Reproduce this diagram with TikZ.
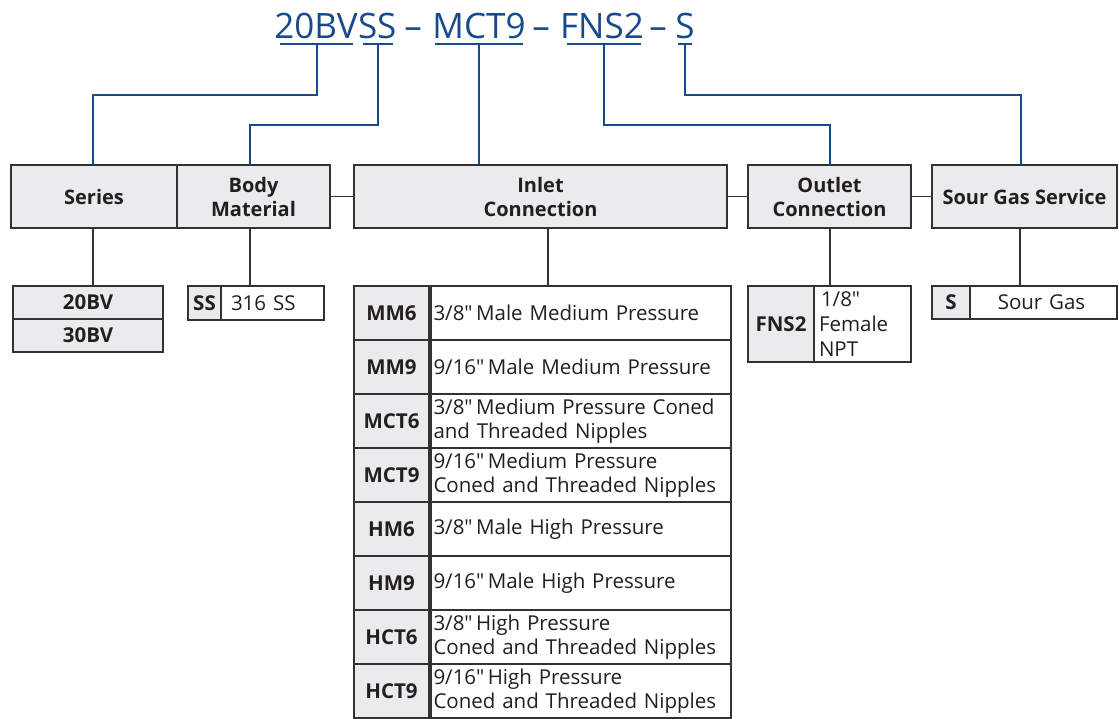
\documentclass[tikz,border=0pt]{standalone}
\usepackage{fontspec}
\setmainfont{Open Sans}[Ligatures=TeXOff]
\definecolor{blu}{RGB}{22,74,140}
\definecolor{grayf}{RGB}{235,235,237}
\definecolor{linec}{RGB}{50,50,50}
\definecolor{txt}{RGB}{35,31,32}
\tikzset{
  box/.style={draw=linec, line width=1.3pt, inner sep=0pt, text=txt},
  hdr/.style={box, fill=grayf, font=\bfseries\fontsize{20}{24}\selectfont, align=center, minimum height=63},
  code/.style={box, fill=grayf, font=\bfseries\fontsize{20.5}{24}\selectfont, align=center},
  desc/.style={box, fill=white, font=\fontsize{20.5}{24}\selectfont},
  tit/.style={text=blu, font=\fontsize{35}{40}\selectfont, inner sep=0pt, anchor=base},
  bl/.style={draw=blu, line width=2pt},
  gl/.style={draw=linec, line width=1.3pt}
}
\begin{document}
\begin{tikzpicture}[x=1pt,y=-1pt]
\useasboundingbox (0,0) rectangle (1119,718);
% title
\node[tit] (t20) at (316,38) {20BV};
\node[tit,anchor=base west] (tss) at (t20.base east) {SS};
\node[tit] (d1) at (413,38) {–};
\node[tit] (tmct) at (479,38) {MCT9};
\node[tit] (d2) at (541,38) {–};
\node[tit] (tfns) at (602,38) {FNS2};
\node[tit] (d3) at (658,38) {–};
\node[tit] (ts) at (685,38) {S};
\coordinate (u1) at (317,44); \coordinate (u2) at (378,44); \coordinate (u3) at (479,44);
\coordinate (u4) at (604,44); \coordinate (u5) at (685,44);
\draw[bl] (280,44) -- (353,44);
\draw[bl] (363,44) -- (393,44);
\draw[bl] (435,44) -- (523,44);
\draw[bl] (567,44) -- (641,44);
\draw[bl] (678,44) -- (692,44);
% header boxes
\node[hdr, minimum width=166] (series) at (94,196.5) {Series};
\node[hdr, minimum width=153] (body) at (253.5,196.5) {Body\\Material};
\node[hdr, minimum width=373] (inlet) at (540.5,196.5) {Inlet\\Connection};
\node[hdr, minimum width=163] (outlet) at (829.5,196.5) {Outlet\\Connection};
\node[hdr, minimum width=185] (sour) at (1024.5,196.5) {Sour Gas Service};
% blue connectors
\draw[bl] (u1) -- (317,95) -| (series.north -| 93,0);
\draw[bl] (u2) -- (378,125) -| (body.north -| 250,0);
\draw[bl] (u3) -- (inlet.north -| u3);
\draw[bl] (u4) -- (604,125) -| (outlet.north -| 830,0);
\draw[bl] (u5) -- (685,95) -| (sour.north -| 1021,0);
% gray links between headers
\draw[gl] (body.east) -- (inlet.west);
\draw[gl] (inlet.east) -- (outlet.west);
\draw[gl] (outlet.east) -- (sour.west);
% series table
\node[code, minimum width=150, minimum height=33] (s20) at (88,302.5) {20BV};
\node[code, minimum width=150, minimum height=33] (s30) at (88,335.5) {30BV};
% body table
\node[code, minimum width=33, minimum height=34] (bss) at (204.5,303) {SS};
\node[desc, minimum width=103, minimum height=34, text width=93, align=left] (bssd) at (272.5,303) {\hspace*{5pt}316 SS};
% inlet table
\foreach \c/\d/\n [count=\i from 0] in {
  MM6/{3/8"\,Male Medium Pressure}/mm6,
  MM9/{9/16"\,Male Medium Pressure}/mm9,
  MCT6/{3/8"\,Medium Pressure Coned\\and Threaded Nipples}/mct6,
  MCT9/{9/16"\,Medium Pressure\\Coned and Threaded Nipples}/mct9,
  HM6/{3/8"\,Male High Pressure}/hm6,
  HM9/{9/16"\,Male High Pressure}/hm9,
  HCT6/{3/8"\,High Pressure\\Coned and Threaded Nipples}/hct6,
  HCT9/{9/16"\,High Pressure\\Coned and Threaded Nipples}/hct9}{
  \node[code, minimum width=75, minimum height=54] (\n) at (391.5,313+54*\i) {\c};
  \node[desc, minimum width=300, minimum height=54, text width=295, align=left] (\n d) at (581,313+54*\i) {\d};
}
% outlet table
\node[code, minimum width=66, minimum height=76] (fns) at (781,324) {FNS2};
\node[desc, minimum width=97, minimum height=76, text width=87, align=left, font=\fontsize{20.5}{25}\selectfont] (fnsd) at (862.5,324) {\hspace*{2pt}1/8"\\Female\\NPT};
% sour table
\node[code, minimum width=38, minimum height=33] (sc) at (951,302.5) {S};
\node[desc, minimum width=147, minimum height=33, text width=147, align=center] (scd) at (1043.5,302.5) {Sour Gas\hspace*{4pt}};
% stems
\draw[gl] (series.south -| 93,0) -- (s20.north -| 93,0);
\draw[gl] (body.south -| 250,0) -- (bssd.north -| 250,0);
\draw[gl] (inlet.south -| 548,0) -- (mm6d.north -| 548,0);
\draw[gl] (outlet.south -| 830,0) -- (fnsd.north -| 830,0);
\draw[gl] (sour.south -| 1020,0) -- (scd.north -| 1020,0);
\end{tikzpicture}
\end{document}
